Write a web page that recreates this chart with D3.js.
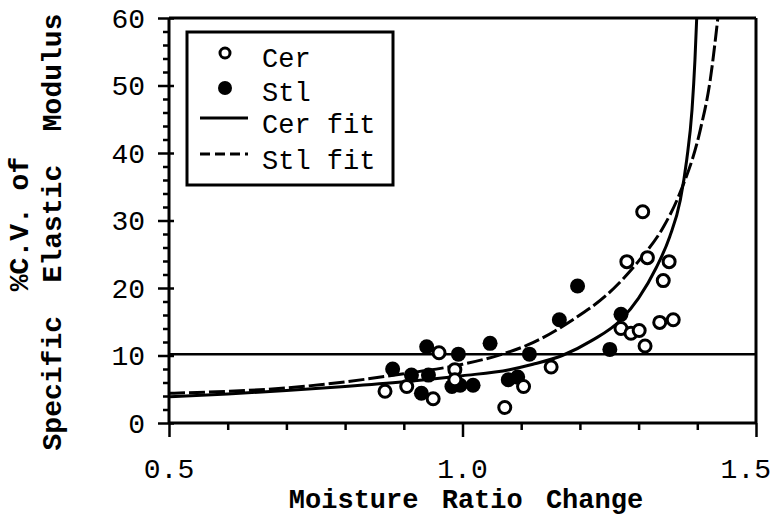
<!DOCTYPE html>
<html><head><meta charset="utf-8">
<script src="https://cdn.jsdelivr.net/npm/d3@7/dist/d3.min.js"></script>
<style>html,body{margin:0;padding:0;background:#fff;} svg{display:block;}</style>
</head><body>
<svg id="chart" width="780" height="519"></svg>
<script>
// ---- data ----
const cerX = [0.868,0.905,0.950,0.960,0.987,0.987,1.072,1.104,1.151,1.270,1.287,1.301,1.311,1.336,1.359,1.307,1.280,1.315,1.352,1.342];
const cerY = [4.7,5.4,3.6,10.4,7.9,6.4,2.3,5.4,8.3,14.0,13.3,13.7,11.4,14.9,15.3,31.3,23.9,24.5,23.9,21.1];
const stlX = [0.881,0.913,0.942,0.939,0.993,1.047,1.114,0.930,0.982,0.996,1.018,1.078,1.094,1.165,1.196,1.270,1.251];
const stlY = [8.0,7.1,7.1,11.3,10.2,11.8,10.2,4.4,5.4,5.6,5.6,6.4,6.8,15.3,20.3,16.1,10.9];
const cerFitX = [0.5,0.6,0.7,0.8,0.9,1.0,1.08,1.12,1.17,1.22,1.27,1.30,1.33,1.353,1.371,1.382,1.391,1.396,1.399];
const cerFitY = [3.9,4.3,4.8,5.4,6.1,7.0,7.9,8.7,10.0,12.2,15.3,18.5,23.0,27.6,33.0,39.0,46.4,53.8,60.0];
const stlFitX = [0.5,0.6,0.7,0.8,0.9,1.0,1.064,1.120,1.188,1.246,1.302,1.342,1.371,1.405,1.422,1.435];
const stlFitY = [4.4,4.7,5.2,6.1,7.3,8.7,10.1,11.9,15.3,19.0,24.2,29.0,34.2,43.4,50.8,60.0];
const refLineY = 10.2;
const xTicks = [0.5,1.0,1.5];
const xTickLabels = ["0.5","1.0","1.5"];
const yTicks = [0,10,20,30,40,50,60];
const legendLabels = ["Cer","Stl","Cer fit","Stl fit"];
const xTitle = "Moisture Ratio Change";
const yTitle1 = "%C.V. of";
const yTitle2 = "Specific  Elastic  Modulus";

// ---- layout ----
const L = 169, R = 756, T = 18, B = 423;
const FONT = "'Liberation Mono','Courier New',monospace";
const svg = d3.select("#chart");
const x = d3.scaleLinear().domain([0.5,1.5]).range([L,R]);
const y = d3.scaleLinear().domain([0,60]).range([B,T]);

svg.append("clipPath").attr("id","clip").append("rect").attr("x",L).attr("y",T).attr("width",R-L).attr("height",B-T);

// frame top/right
svg.append("line").attr("x1",L).attr("x2",R).attr("y1",T).attr("y2",T).attr("stroke","#000").attr("stroke-width",3);
svg.append("line").attr("x1",R).attr("x2",R).attr("y1",T).attr("y2",B).attr("stroke","#000").attr("stroke-width",3);

// x axis
const xAxis = svg.append("g").attr("transform",`translate(0,${B})`)
  .call(d3.axisBottom(x).tickValues(d3.range(0.5,1.501,0.1)).tickSize(7).tickFormat(""));
xAxis.select(".domain").attr("stroke-width",3).attr("d",`M${L},0H${R}`);
xAxis.selectAll(".tick line").attr("stroke-width",2.5)
  .attr("y2",(d)=> xTicks.some(t=>Math.abs(t-d)<1e-6)?14:7);
svg.append("g").selectAll("text").data(xTicks).join("text")
  .attr("x",(d,i)=> i===2 ? 771 : x(d)).attr("y",478)
  .attr("text-anchor",(d,i)=> i===2 ? "end" : "middle")
  .attr("font-family",FONT).attr("font-size",28).text((d,i)=>xTickLabels[i]);

// y axis
const yAxis = svg.append("g").attr("transform",`translate(${L},0)`)
  .call(d3.axisLeft(y).tickValues(d3.range(0,60.01,2)).tickSize(6).tickFormat(""));
yAxis.select(".domain").attr("stroke-width",3).attr("d",`M0,${B}V${T}`);
yAxis.selectAll(".tick line").attr("stroke-width",2.5)
  .attr("x2",(d)=> d%10===0 ? -11 : -6)
  .attr("x1",(d)=> d%10===0 ? 5 : 0);
svg.append("g").selectAll("text").data(yTicks).join("text")
  .attr("x",145).attr("y",d=>y(d)).attr("dy","0.35em")
  .attr("text-anchor","end").attr("font-family",FONT).attr("font-size",28).text(d=>d);

// reference line
svg.append("line").attr("x1",L).attr("x2",R).attr("y1",y(refLineY)).attr("y2",y(refLineY))
  .attr("stroke","#000").attr("stroke-width",2.5);

// fits
const line = d3.line().x(d=>x(d[0])).y(d=>y(d[1])).curve(d3.curveMonotoneX);
const plot = svg.append("g").attr("clip-path","url(#clip)");
plot.append("path").datum(cerFitX.map((v,i)=>[v,cerFitY[i]])).attr("d",line)
  .attr("fill","none").attr("stroke","#000").attr("stroke-width",3);
plot.append("path").datum(stlFitX.map((v,i)=>[v,stlFitY[i]])).attr("d",line)
  .attr("fill","none").attr("stroke","#000").attr("stroke-width",3).attr("stroke-dasharray","16,4");

// points
svg.append("g").selectAll("circle").data(stlX.map((v,i)=>[v,stlY[i]])).join("circle")
  .attr("cx",d=>x(d[0])).attr("cy",d=>y(d[1])).attr("r",7.5).attr("fill","#000");
svg.append("g").selectAll("circle").data(cerX.map((v,i)=>[v,cerY[i]])).join("circle")
  .attr("cx",d=>x(d[0])).attr("cy",d=>y(d[1])).attr("r",6).attr("fill","#fff")
  .attr("stroke","#000").attr("stroke-width",3);

// legend
const lg = svg.append("g");
lg.append("rect").attr("x",187).attr("y",32).attr("width",206).attr("height",153)
  .attr("fill","#fff").attr("stroke","#000").attr("stroke-width",3);
lg.append("circle").attr("cx",225).attr("cy",53).attr("r",5).attr("fill","#fff").attr("stroke","#000").attr("stroke-width",3);
lg.append("circle").attr("cx",225).attr("cy",88).attr("r",7).attr("fill","#000");
lg.append("line").attr("x1",200).attr("x2",248).attr("y1",118).attr("y2",118).attr("stroke","#000").attr("stroke-width",3);
lg.append("line").attr("x1",200).attr("x2",248).attr("y1",154).attr("y2",154).attr("stroke","#000").attr("stroke-width",3).attr("stroke-dasharray","10,5");
const lgY = [67,101,133,169];
lg.selectAll("text").data(legendLabels).join("text")
  .attr("x",262).attr("y",(d,i)=>lgY[i]).attr("font-family",FONT).attr("font-size",27).text(d=>d)
  .style("white-space","pre");

// titles
svg.append("text").attr("x",466).attr("y",508).attr("text-anchor","middle")
  .attr("font-family",FONT).attr("font-weight","bold").attr("font-size",27)
  .style("word-spacing","7px").text(xTitle);
svg.append("text").attr("transform","translate(28,224) rotate(-90)").attr("text-anchor","middle")
  .attr("font-family",FONT).attr("font-weight","bold").attr("font-size",28)
  .style("white-space","pre").text(yTitle1);
svg.append("text").attr("transform","translate(61,232) rotate(-90)").attr("text-anchor","middle")
  .attr("font-family",FONT).attr("font-weight","bold").attr("font-size",28)
  .style("white-space","pre").text(yTitle2);
</script>
</body></html>
